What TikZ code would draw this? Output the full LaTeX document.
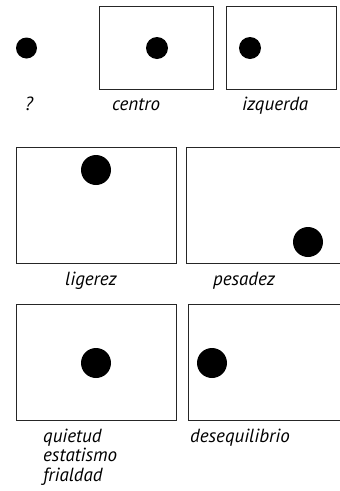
\documentclass[tikz,border=0pt]{standalone}
\usepackage{fontspec}
\setmainfont{PT Sans}
\tikzset{
  % picture frame
  frame/.style={rectangle, draw=black!85, line width=1pt, inner sep=0pt},
  % black spot
  spot/.style={circle, fill=black, inner sep=0pt},
  % caption
  lbl/.style={anchor=base west, inner sep=0pt, align=left,
    font=\fontsize{19}{19.5}\selectfont\itshape},
}
\begin{document}
\begin{tikzpicture}[x=1pt, y=-1pt]
  \clip (0,0) rectangle (340,491);

  %% ---- TOP ROW ----
  \node[spot, minimum size=21] (s_q) at (26.5,48) {};
  \node[frame, minimum width=114, minimum height=83] (f_c) at (156,47.5) {};
  \node[spot, minimum size=22] (s_c) at (157,48) {};
  \node[frame, minimum width=110, minimum height=83] (f_i) at (281,47.5) {};
  \node[spot, minimum size=22] (s_i) at (250,48) {};

  \node[lbl] (l_q) at (25,110) {?};
  \node[lbl] (l_c) at (112,110) {centro};
  \node[lbl] (l_i) at (242,110) {izquerda};

  %% ---- MIDDLE ROW ----
  \node[frame, minimum width=160, minimum height=116] (f_l) at (96,205) {};
  \node[spot, minimum size=30] (s_l) at (96,170) {};
  \node[frame, minimum width=160, minimum height=116] (f_p) at (266,205) {};
  \node[spot, minimum size=30] (s_p) at (308,242) {};

  \node[lbl] (l_l) at (65,285) {ligerez};
  \node[lbl] (l_p) at (213,285) {pesadez};

  %% ---- BOTTOM ROW ----
  \node[frame, minimum width=160, minimum height=116] (f_q) at (96,362) {};
  \node[spot, minimum size=30] (s_qt) at (96,363) {};
  \node[frame, minimum width=160, minimum height=116] (f_d) at (268,362) {};
  \node[spot, minimum size=30] (s_d) at (212,363) {};

  \node[lbl, anchor=north west] (l_qt) at (43,428.5) {quietud\\estatismo\\frialdad};
  \node[lbl] (l_d) at (190,442) {desequilibrio};
\end{tikzpicture}
\end{document}
